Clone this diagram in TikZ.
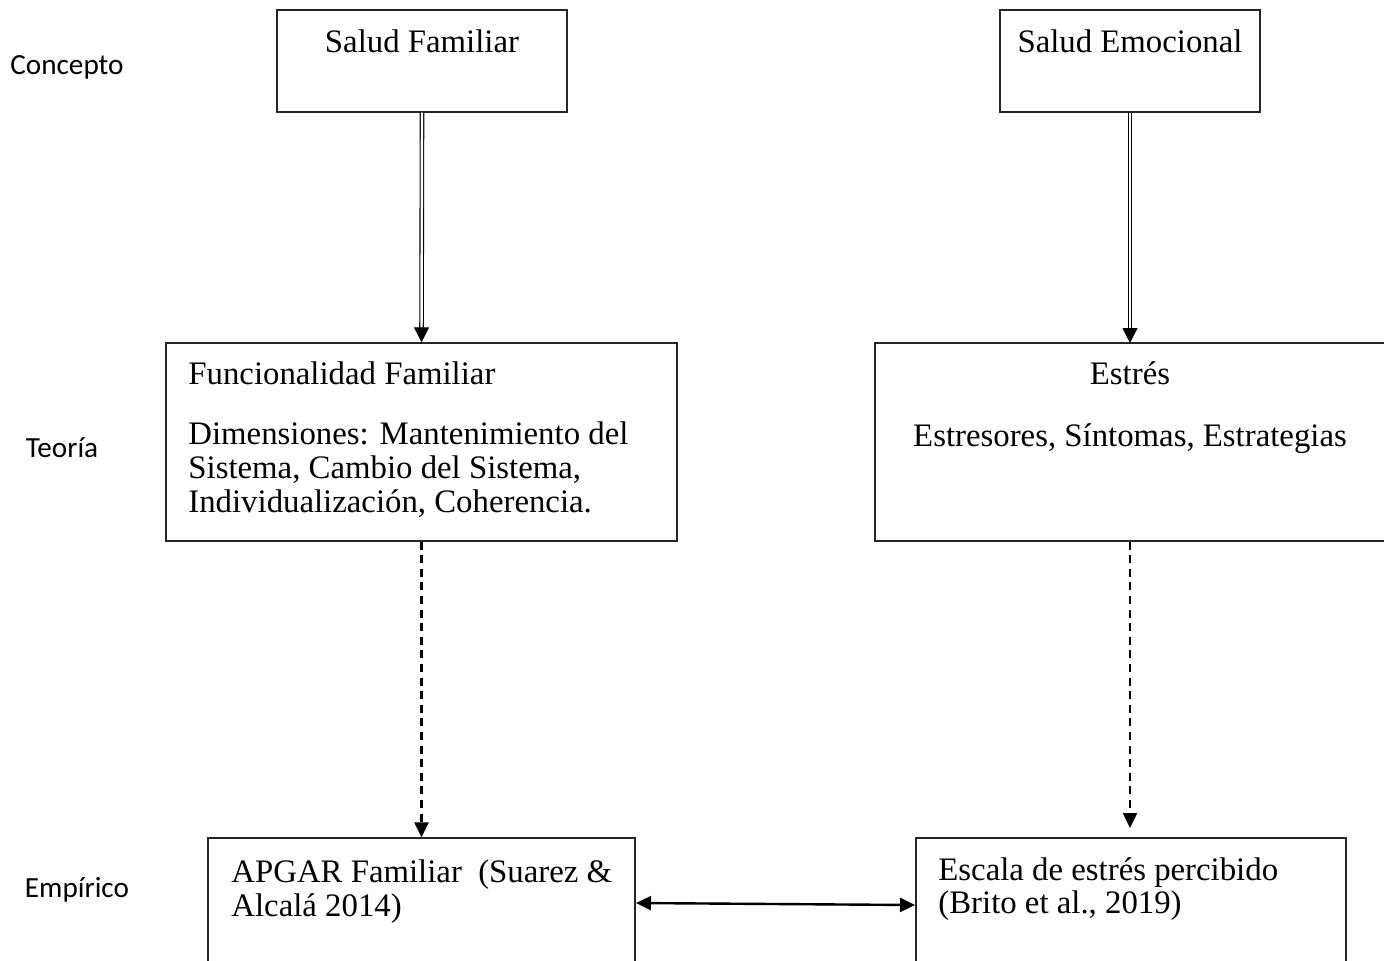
\documentclass[tikz,border=0pt]{standalone}
\usepackage{fontspec}
\setmainfont{Liberation Serif}
\newfontfamily\calibrifont{Carlito}
\usetikzlibrary{arrows.meta}
\tikzset{
  box/.style={draw=black!85, line width=0.65pt, inner sep=0pt, fill=white},
  txt/.style={inner sep=0pt, anchor=base west, font=\fontsize{16.4pt}{17pt}\selectfont},
  ctxt/.style={inner sep=0pt, anchor=base, font=\fontsize{16.4pt}{17pt}\selectfont},
  side/.style={inner sep=0pt, anchor=center, font=\calibrifont\fontsize{14.6pt}{16pt}\selectfont},
  dblarrow/.style={double=white, line width=0.55pt, double distance=1.2pt, -{Triangle[width=7.5pt,length=7.5pt]}},
  dasharrow/.style={line width=1.1pt, dash pattern=on 4pt off 2.8pt, -{Triangle[width=7pt,length=7.5pt]}},
  biarrow/.style={line width=1.2pt, {Triangle[width=7pt,length=7.5pt]}-{Triangle[width=7pt,length=7.5pt]}}
}
\begin{document}
\begin{tikzpicture}[x=0.5pt,y=-0.5pt]
\clip (0,0) rectangle (1384,960);
\fill[white] (0,0) rectangle (1384,960);

% boxes
\node[box, minimum width=145pt, minimum height=51pt] (sf) at (422,61) {};
\node[box, minimum width=130pt, minimum height=51pt] (se) at (1130,61) {};
\node[box, minimum width=255.5pt, minimum height=99pt] (ff) at (421.5,442) {};
\node[box, minimum width=260pt, minimum height=99pt] (es) at (1135,442) {};
\node[box, minimum width=213.5pt, minimum height=75pt] (ap) at (421.5,913) {};
\node[box, minimum width=215pt, minimum height=75pt] (ep) at (1131,913) {};

% side labels
\node[side] (lc) at (67,67) {Concepto};
\node[side] (lt) at (62,448) {Teoría};
\node[side] (le) at (77,890) {Empírico};

% texts
\node[ctxt] (tsf) at (422,52) {Salud Familiar};
\node[ctxt] (tse) at (1130,52) {Salud Emocional};
\node[txt] (tff1) at (188,384) {Funcionalidad Familiar};
\node[txt] (tff2a) at (188,444) {Dimensiones: Mantenimiento del};
\node[txt] (tff2b) at (188,478) {Sistema, Cambio del Sistema,};
\node[txt] (tff2c) at (188,512) {Individualización, Coherencia.};
\node[ctxt] (tes1) at (1130,384) {Estrés};
\node[ctxt] (tes2) at (1130,446) {Estresores, Síntomas, Estrategias};
\node[txt] (tap1) at (231,882) {APGAR Familiar\ \ (Suarez \&};
\node[txt] (tap2) at (231,916) {Alcalá 2014)};
\node[txt] (tep1) at (938,880) {Escala de estrés percibido};
\node[txt] (tep2) at (938,913) {(Brito et al., 2019)};

% connectors
\coordinate (estop) at (1130,343);
\coordinate (eptip) at (1130,828);
\draw[dblarrow] (sf.south) -- (ff.north);
\draw[dblarrow] (se.south) -- (estop);
\draw[dasharrow] (ff.south) -- (ap.north);
\draw[dasharrow] (es.south -| eptip) -- (eptip);
\coordinate (hl) at (636,903);
\coordinate (hr) at (915,905);
\draw[biarrow] (hl) -- (hr);
\end{tikzpicture}
\end{document}
